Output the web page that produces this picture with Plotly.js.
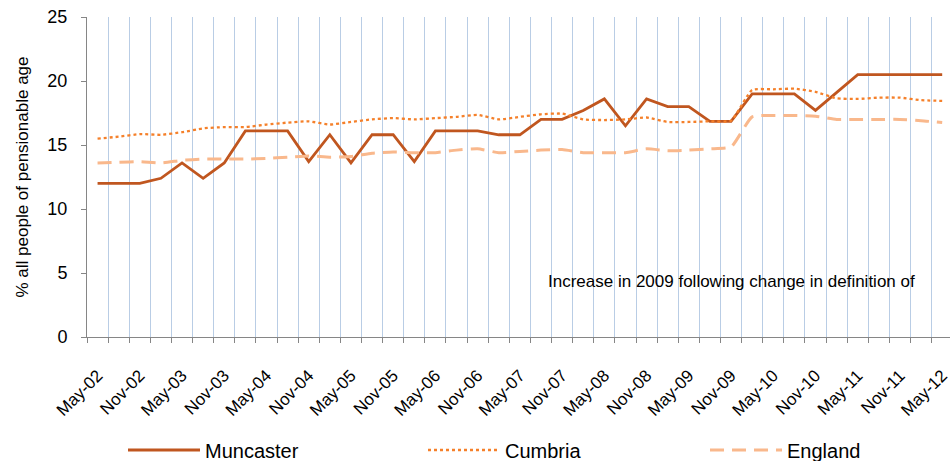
<!DOCTYPE html>
<html>
<head>
<meta charset="utf-8">
<script src="https://cdn.plot.ly/plotly-3.0.1.min.js"></script>
<style>html,body{margin:0;padding:0;background:#fff;}#chart{width:950px;height:461px;}</style>
</head>
<body>
<div id="chart"></div>
<script>
const categories = ["May-02","Aug-02","Nov-02","Feb-03","May-03","Aug-03","Nov-03","Feb-04","May-04","Aug-04","Nov-04","Feb-05","May-05","Aug-05","Nov-05","Feb-06","May-06","Aug-06","Nov-06","Feb-07","May-07","Aug-07","Nov-07","Feb-08","May-08","Aug-08","Nov-08","Feb-09","May-09","Aug-09","Nov-09","Feb-10","May-10","Aug-10","Nov-10","Feb-11","May-11","Aug-11","Nov-11","Feb-12","May-12"];
const tickLabels = ["May-02","Nov-02","May-03","Nov-03","May-04","Nov-04","May-05","Nov-05","May-06","Nov-06","May-07","Nov-07","May-08","Nov-08","May-09","Nov-09","May-10","Nov-10","May-11","Nov-11","May-12"];
const muncaster = [12.0,12.0,12.0,12.4,13.6,12.4,13.6,16.1,16.1,16.1,13.7,15.8,13.6,15.8,15.8,13.7,16.1,16.1,16.1,15.8,15.8,17.0,17.0,17.7,18.6,16.5,18.6,18.0,18.0,16.85,16.85,19.0,19.0,19.0,17.7,19.1,20.5,20.5,20.5,20.5,20.5];
const cumbria = [15.5,15.65,15.85,15.8,16.0,16.3,16.4,16.4,16.6,16.75,16.85,16.6,16.8,17.0,17.1,17.0,17.1,17.2,17.35,17.0,17.2,17.4,17.45,17.0,16.95,17.0,17.15,16.8,16.8,16.85,16.9,19.3,19.35,19.4,19.15,18.65,18.6,18.7,18.7,18.5,18.45];
const england = [13.6,13.65,13.7,13.6,13.8,13.9,13.9,13.9,13.95,14.05,14.15,14.05,14.1,14.35,14.45,14.4,14.4,14.6,14.7,14.4,14.5,14.6,14.65,14.4,14.4,14.4,14.7,14.55,14.6,14.7,14.85,17.2,17.3,17.3,17.25,17.0,17.0,17.0,17.0,16.9,16.75];
const seriesNames = ["Muncaster","Cumbria","England"];
const yTitle = "% all people of pensionable age";
const noteText = "Increase in 2009 following change in definition of";

const idx = categories.map((_, i) => i);
const tickPos = tickLabels.map(l => categories.indexOf(l));
const boundaries = categories.map((_, i) => i - 0.5).concat([categories.length - 0.5]);
const FONT = "Liberation Sans, Arial, sans-serif";

const traces = [
  {x: idx, y: muncaster, name: seriesNames[0], type: "scatter", mode: "lines", legend: "legend",
   line: {color: "#C0561F", width: 2.8}},
  {x: idx, y: cumbria, name: seriesNames[1], type: "scatter", mode: "lines", legend: "legend2",
   line: {color: "#F5802A", width: 2.3, dash: "dot", shape: "spline", smoothing: 0.5}},
  {x: idx, y: england, name: seriesNames[2], type: "scatter", mode: "lines", legend: "legend3",
   line: {color: "#F9B88C", width: 3, dash: "14px,8px", shape: "spline", smoothing: 0.5}}
];

function legendAt(px) {
  return {
    orientation: "h", xref: "container", yref: "container",
    x: px / 950, xanchor: "left", y: 11 / 461, yanchor: "middle",
    font: {family: FONT, size: 20, color: "#000"},
    itemwidth: 72, bgcolor: "rgba(0,0,0,0)", borderwidth: 0
  };
}

const layout = {
  width: 950, height: 461,
  margin: {l: 87, r: 0, t: 17, b: 124, autoexpand: false},
  paper_bgcolor: "#fff", plot_bgcolor: "#fff",
  font: {family: FONT, color: "#000", size: 17},
  showlegend: true,
  xaxis: {
    type: "linear", range: [-0.5, 40.37], automargin: false,
    tickmode: "array", tickvals: tickPos, ticktext: tickLabels,
    tickangle: -45, ticks: "", showgrid: false, zeroline: false,
    showline: true, linecolor: "#868686", linewidth: 1,
    tickfont: {family: FONT, size: 17, color: "#000"},
    ticklabelstandoff: 21, ticklabeloverflow: "allow",
    minor: {tickmode: "array", tickvals: boundaries, ticks: "outside", ticklen: 5,
            tickcolor: "#868686", tickwidth: 1, showgrid: true, gridcolor: "#B9CDE5", gridwidth: 1}
  },
  yaxis: {
    range: [0, 25], dtick: 5, tick0: 0, ticks: "outside", ticklen: 5, automargin: false,
    tickcolor: "#868686", showline: true, linecolor: "#868686", linewidth: 1,
    showgrid: false, zeroline: false,
    tickfont: {family: FONT, size: 18, color: "#000"},
    ticklabelstandoff: 10,
    title: {text: yTitle, font: {family: FONT, size: 17, color: "#000"}, standoff: 14}
  },
  legend: legendAt(123),
  legend2: legendAt(423),
  legend3: legendAt(705),
  shapes: [
    {type: "rect", xref: "paper", yref: "paper", x0: 0.5, x1: 1, y0: 0.02, y1: 0.2625,
     fillcolor: "#fff", line: {width: 0}, layer: "between"}
  ],
  annotations: [
    {xref: "paper", yref: "paper", x: 0.747, y: 0.172, xanchor: "center", yanchor: "middle",
     text: noteText, showarrow: false, font: {family: FONT, size: 17, color: "#000"}}
  ]
};

Plotly.newPlot("chart", traces, layout, {displayModeBar: false, staticPlot: true});
</script>
</body>
</html>
